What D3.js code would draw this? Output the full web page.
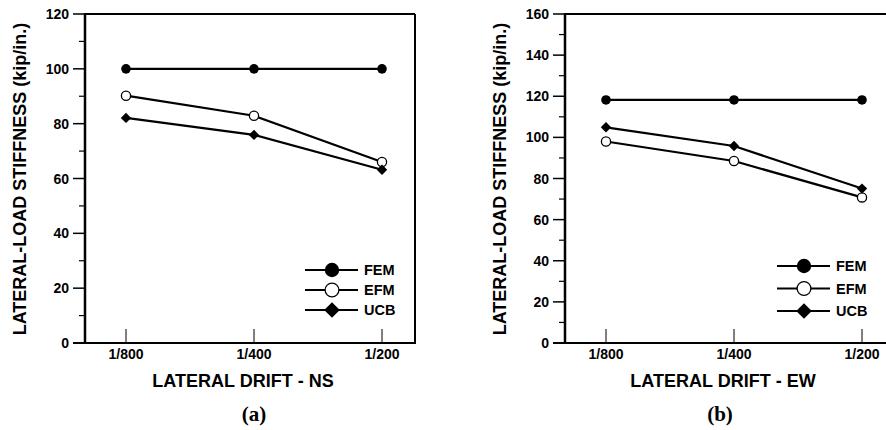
<!DOCTYPE html>
<html><head><meta charset="utf-8">
<script src="https://cdn.jsdelivr.net/npm/d3@7"></script>
<style>
body{margin:0;background:#fff;}
svg text{font-family:"Liberation Sans",Arial,sans-serif;font-weight:bold;fill:#000;}
</style></head>
<body><svg id="c" width="886" height="430"></svg>
<script>
const drifts = ["1/800","1/400","1/200"];
const seriesNames = ["FEM","EFM","UCB"];
// Panel (a) NS
const nsFEM = [100, 100, 100];
const nsEFM = [90.2, 82.9, 66.0];
const nsUCB = [82.1, 75.9, 63.2];
const nsTicks = [0,20,40,60,80,100,120];
// Panel (b) EW
const ewFEM = [118.2, 118.2, 118.2];
const ewEFM = [98.0, 88.5, 70.8];
const ewUCB = [104.9, 95.8, 75.1];
const ewTicks = [0,20,40,60,80,100,120,140,160];

const svg = d3.select("#c");

function panel(o){
  const g = svg.append("g").attr("transform",`translate(${o.left},0)`);
  const W = 330, top = 14, bottom = 343;
  const yMax = o.ticks[o.ticks.length-1];
  const y = d3.scaleLinear().domain([0,yMax]).range([bottom,top]);
  const x = d3.scalePoint().domain(drifts).range([41,297]);
  // frame
  g.append("line").attr("x1",0).attr("x2",W).attr("y1",top).attr("y2",top).attr("stroke","#000").attr("stroke-width",2);
  g.append("line").attr("x1",W).attr("x2",W).attr("y1",top).attr("y2",bottom).attr("stroke","#000").attr("stroke-width",2);
  g.append("line").attr("x1",0).attr("x2",0).attr("y1",top-1).attr("y2",bottom+1).attr("stroke","#000").attr("stroke-width",2.5);
  g.append("line").attr("x1",-12).attr("x2",W+1).attr("y1",bottom).attr("y2",bottom).attr("stroke","#000").attr("stroke-width",2);
  // y ticks
  const minor = d3.range(10,yMax,20);
  g.selectAll(".mj").data(o.ticks).enter().append("line")
    .attr("x1",-12).attr("x2",0).attr("y1",d=>y(d)).attr("y2",d=>y(d)).attr("stroke","#000").attr("stroke-width",1.5);
  g.selectAll(".mn").data(minor).enter().append("line")
    .attr("x1",-6).attr("x2",0).attr("y1",d=>y(d)).attr("y2",d=>y(d)).attr("stroke","#000").attr("stroke-width",1.2);
  g.selectAll(".yl").data(o.ticks).enter().append("text")
    .attr("x",-16).attr("y",d=>y(d)+5).attr("text-anchor","end").attr("font-size",14).text(d=>d);
  // x ticks
  g.selectAll(".xt").data(drifts).enter().append("line")
    .attr("x1",d=>x(d)).attr("x2",d=>x(d)).attr("y1",bottom).attr("y2",bottom-14).attr("stroke","#000").attr("stroke-width",1);
  g.selectAll(".xl").data(drifts).enter().append("text")
    .attr("x",d=>x(d)).attr("y",bottom+16).attr("text-anchor","middle").attr("font-size",14).text(d=>d);
  // titles
  g.append("text").attr("x",o.xtx).attr("y",387).attr("text-anchor","middle").attr("font-size",18).text(o.xtitle);
  g.append("text").attr("transform",`translate(-59,179) rotate(-90)`).attr("text-anchor","middle")
    .attr("font-size",18).text("LATERAL-LOAD STIFFNESS (kip/in.)");
  g.append("text").attr("x",o.capx).attr("y",421).attr("text-anchor","middle")
    .style("font-family","'Liberation Serif','Times New Roman',serif").attr("font-size",21).text(o.cap);
  // lines
  const line = d3.line().x((d,i)=>x(drifts[i])).y(d=>y(d));
  const data = [o.fem,o.efm,o.ucb];
  data.forEach(s=>{
    g.append("path").attr("d",line(s)).attr("fill","none").attr("stroke","#000").attr("stroke-width",2.2);
  });
  function marker(sel,k,cx,cy,s){
    if(k===0) sel.append("circle").attr("cx",cx).attr("cy",cy).attr("r",4.8*s).attr("fill","#000");
    else if(k===1) sel.append("circle").attr("cx",cx).attr("cy",cy).attr("r",4.6*s).attr("fill","#fff").attr("stroke","#000").attr("stroke-width",1.3);
    else sel.append("path").attr("d",`M${cx},${cy-5.2*s}L${cx+5.2*s},${cy}L${cx},${cy+5.2*s}L${cx-5.2*s},${cy}Z`).attr("fill","#000");
  }
  data.forEach((s,k)=>s.forEach((v,i)=>marker(g,k,x(drifts[i]),y(v),1)));
  // legend
  seriesNames.forEach((n,k)=>{
    const ly = o.legY + k*o.legDy;
    g.append("line").attr("x1",o.legX).attr("x2",o.legX+53).attr("y1",ly).attr("y2",ly).attr("stroke","#000").attr("stroke-width",2.2);
    marker(g,k,o.legX+27,ly,1.5);
    g.append("text").attr("x",o.legX+59).attr("y",ly+5).attr("font-size",14.5).text(n);
  });
}

panel({left:85, ticks:nsTicks, fem:nsFEM, efm:nsEFM, ucb:nsUCB, xtitle:"LATERAL DRIFT - NS", xtx:158, cap:"(a)", capx:169, legX:220, legY:270, legDy:20});
panel({left:565, ticks:ewTicks, fem:ewFEM, efm:ewEFM, ucb:ewUCB, xtitle:"LATERAL DRIFT - EW", xtx:158, cap:"(b)", capx:155, legX:212, legY:266, legDy:22.5});
</script></body></html>
